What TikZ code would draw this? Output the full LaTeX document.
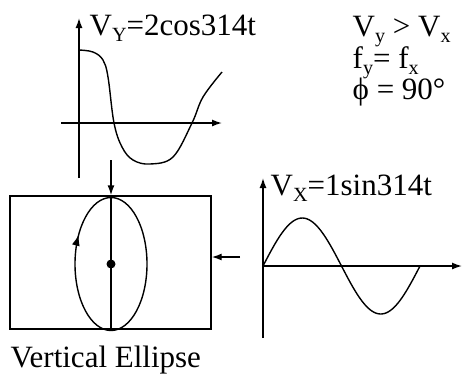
\documentclass[tikz,border=0pt]{standalone}
\usepackage{fontspec}
\setmainfont{Liberation Serif}
\usetikzlibrary{arrows.meta,decorations.markings}
\newcommand\lsub[1]{\smash{\raisebox{-0.2em}{\scalebox{0.65}{#1}}}}
\begin{document}
\begin{tikzpicture}[x=1pt,y=-1pt, line width=1.4pt,
  tip/.style={-{Latex[length=10pt,width=7pt]}},
  lbl/.style={anchor=base west, inner sep=0pt, font=\fontsize{31}{33}\selectfont}]
\useasboundingbox (0,0) rectangle (462,373);
% top graph (V_Y)
\coordinate (ya0) at (79,178); \coordinate (ya1) at (79,18);
\draw[tip] (ya0) -- (ya1);
\coordinate (yb0) at (61,123); \coordinate (yb1) at (222,123);
\draw[tip] (yb0) -- (yb1);
\draw plot[smooth,tension=0.6] coordinates {(79,50) (93,52) (103,60) (108,77) (114,123) (122,147) (133,160) (150,164) (173,157) (192,123) (203,97) (222,72)};
\node[lbl] (vy) at (89,35) {V\lsub{Y}=2cos314t};
% right texts
\node[lbl] (t1) at (352,36) {V\lsub{y} > V\lsub{x}};
\node[lbl] (t2) at (352,68) {f\lsub{y}= f\lsub{x}};
\node[lbl] (t3) at (352,99) {ϕ = 90°};
% screen box
\node[draw, minimum width=201pt, minimum height=133pt, inner sep=0pt] (box) at (110.5,262.5) {};
\coordinate (d0) at (111,160);
\draw[tip] (d0) -- (d0 |- box.north);
\coordinate (l0) at (240,257);
\draw[tip] (l0) -- (l0 -| box.east);
\draw[postaction=decorate, decoration={markings, mark=at position 0.59 with {\arrow{Latex[length=11pt,width=8pt]}}}] (111,264) ellipse [x radius=36, y radius=66.5];
\draw (111,197.5) -- (111,330.5);
\fill (111,264) circle [radius=4.5];
\node[lbl] (ve) at (10,367) {Vertical Ellipse};
% right graph (V_X)
\coordinate (xa0) at (263,338); \coordinate (xa1) at (263,178);
\draw[tip] (xa0) -- (xa1);
\coordinate (xb0) at (263,266); \coordinate (xb1) at (462,266);
\draw[tip] (xb0) -- (xb1);
\draw plot[domain=0:1, samples=80, smooth] ({263+157*\x}, {266-48*sin(360*\x)});
\node[lbl] (vx) at (270,195) {V\lsub{X}=1sin314t};
\end{tikzpicture}
\end{document}
